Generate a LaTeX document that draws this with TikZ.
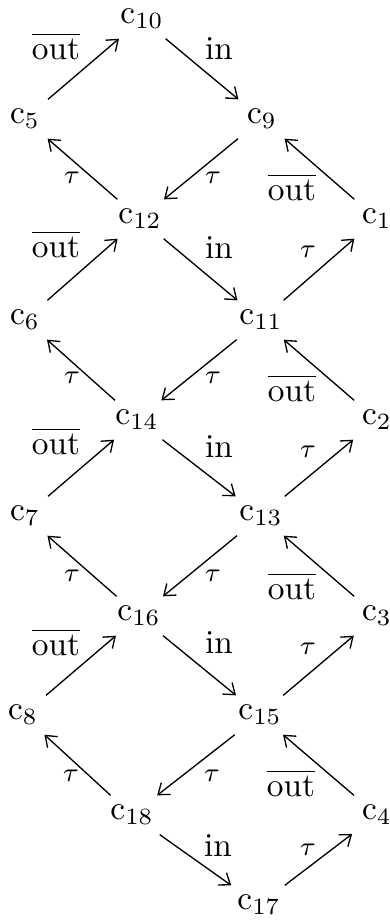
\documentclass[tikz,border=0pt]{standalone}
\usetikzlibrary{arrows.meta}
\begin{document}
\begin{tikzpicture}[x=0.3pt,y=-0.3pt,
  st/.style={inner sep=3pt, outer sep=0pt},
  lab/.style={inner sep=0pt},
  tl/.style={inner sep=0pt, font=\footnotesize},
  arr/.style={-{Straight Barb[length=3pt,width=4.5pt]}, line width=0.4pt}]
\useasboundingbox (0,0) rectangle (389,924);
% states
\node[st] (c10) at (142,19) {$\mathrm{c}_{10}$};
\node[st] (c5)  at (25,119) {$\mathrm{c}_{5}$};
\node[st] (c9)  at (262,119) {$\mathrm{c}_{9}$};
\node[st] (c12) at (140,219) {$\mathrm{c}_{12}$};
\node[st] (c1)  at (377,219) {$\mathrm{c}_{1}$};
\node[st] (c6)  at (25,320) {$\mathrm{c}_{6}$};
\node[st] (c11) at (261,320) {$\mathrm{c}_{11}$};
\node[st] (c14) at (137,420) {$\mathrm{c}_{14}$};
\node[st] (c2)  at (377,420) {$\mathrm{c}_{2}$};
\node[st] (c7)  at (25,516) {$\mathrm{c}_{7}$};
\node[st] (c13) at (261,516) {$\mathrm{c}_{13}$};
\node[st] (c16) at (139,616) {$\mathrm{c}_{16}$};
\node[st] (c3)  at (377,616) {$\mathrm{c}_{3}$};
\node[st] (c8)  at (23,715) {$\mathrm{c}_{8}$};
\node[st] (c15) at (260,715) {$\mathrm{c}_{15}$};
\node[st] (c18) at (132,815) {$\mathrm{c}_{18}$};
\node[st] (c4)  at (377,815) {$\mathrm{c}_{4}$};
\node[st] (c17) at (259,905) {$\mathrm{c}_{17}$};
% transitions
\draw[arr] (c5) -- (c10);
\draw[arr] (c10) -- (c9);
\draw[arr] (c12) -- (c5);
\draw[arr] (c9) -- (c12);
\draw[arr] (c1) -- (c9);
\draw[arr] (c12) -- (c11);
\draw[arr] (c11) -- (c1);
\draw[arr] (c6) -- (c12);
\draw[arr] (c14) -- (c6);
\draw[arr] (c11) -- (c14);
\draw[arr] (c2) -- (c11);
\draw[arr] (c14) -- (c13);
\draw[arr] (c13) -- (c2);
\draw[arr] (c7) -- (c14);
\draw[arr] (c16) -- (c7);
\draw[arr] (c13) -- (c16);
\draw[arr] (c3) -- (c13);
\draw[arr] (c16) -- (c15);
\draw[arr] (c15) -- (c3);
\draw[arr] (c8) -- (c16);
\draw[arr] (c18) -- (c8);
\draw[arr] (c15) -- (c18);
\draw[arr] (c4) -- (c15);
\draw[arr] (c18) -- (c17);
\draw[arr] (c17) -- (c4);
% labels
\node[lab] (l1) at (56,46) {$\overline{\mathrm{out}}$};
\node[lab] (l2) at (219,49) {in};
\node[tl] (l3) at (72,178) {$\tau$};
\node[tl] (l4) at (213,178) {$\tau$};
\node[lab] (l5) at (292,187) {$\overline{\mathrm{out}}$};
\node[lab] (l6) at (56,244) {$\overline{\mathrm{out}}$};
\node[lab] (l7) at (219,248) {in};
\node[tl] (l8) at (308,252) {$\tau$};
\node[tl] (l9) at (72,378) {$\tau$};
\node[tl] (l10) at (213,378) {$\tau$};
\node[lab] (l11) at (292,388) {$\overline{\mathrm{out}}$};
\node[lab] (l12) at (56,441) {$\overline{\mathrm{out}}$};
\node[lab] (l13) at (219,447) {in};
\node[tl] (l14) at (308,452) {$\tau$};
\node[tl] (l15) at (72,576) {$\tau$};
\node[tl] (l16) at (213,576) {$\tau$};
\node[lab] (l17) at (292,586) {$\overline{\mathrm{out}}$};
\node[lab] (l18) at (56,642) {$\overline{\mathrm{out}}$};
\node[lab] (l19) at (219,643) {in};
\node[tl] (l20) at (308,649) {$\tau$};
\node[tl] (l21) at (71,776) {$\tau$};
\node[tl] (l22) at (212,776) {$\tau$};
\node[lab] (l23) at (291,783) {$\overline{\mathrm{out}}$};
\node[lab] (l24) at (218,846) {in};
\node[tl] (l25) at (308,850) {$\tau$};
\end{tikzpicture}
\end{document}
